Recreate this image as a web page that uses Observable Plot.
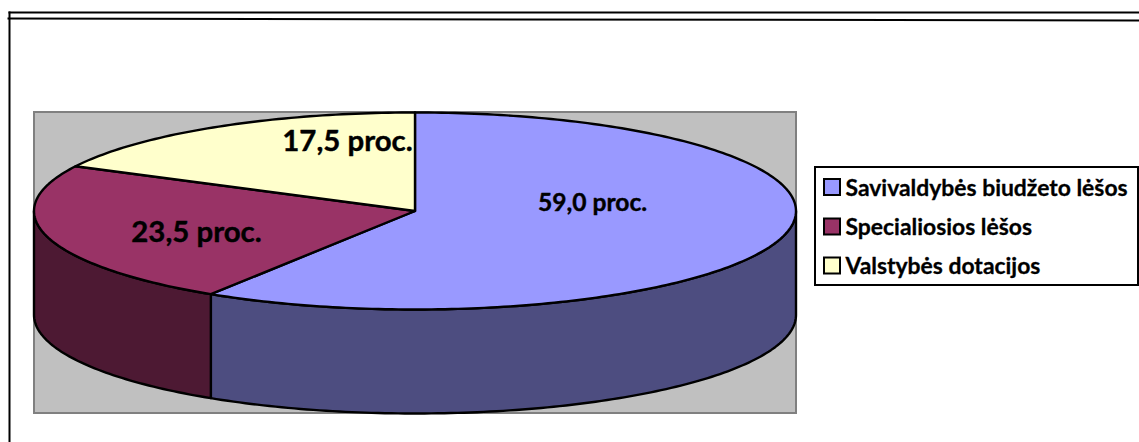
<!DOCTYPE html>
<html lang="lt">
<head>
<meta charset="utf-8">
<script src="https://cdn.jsdelivr.net/npm/d3@7"></script>
<script src="https://cdn.jsdelivr.net/npm/@observablehq/plot@0.6"></script>
<style>
html,body{margin:0;padding:0;background:#fff;overflow:hidden}
svg{display:block}
</style>
</head>
<body>
<div id="chart"></div>
<script>
const categories = ["Savivaldybės biudžeto lėšos", "Specialiosios lėšos", "Valstybės dotacijos"];
const shares = [59.0, 23.5, 17.5];
const valueLabels = ["59,0 proc.", "23,5 proc.", "17,5 proc."];
const topColors = ["#9999ff", "#993366", "#ffffcc"];
const sideColors = ["#4d4d80", "#4d1933", "#808066"];

// Layout (pixels of the page), converted into pie units so that everything goes through the scales
const W = 1139, H = 442;
const cx = 414.5, cy = 210.5, rx = 381, ry = 98.5, depthPx = 104;
const ux = p => (p - cx) / rx;
const uy = p => (cy - p) / ry;
const depth = depthPx / ry;
const labelPos = [[592, 203, 24.6], [196, 232, 29.4], [347, 141, 29.4]];
const legendRows = [187, 226.5, 265.5];

// Angles measured clockwise from 12 o'clock
let acc = 0;
const slices = shares.map((v, i) => {
  const a0 = acc / 100 * 2 * Math.PI;
  acc += v;
  return {i, a0, a1: acc / 100 * 2 * Math.PI};
});
const arcPts = (a0, a1, dz = 0) => {
  const n = Math.max(2, Math.ceil((a1 - a0) / (Math.PI / 180)));
  return d3.range(n + 1).map(k => {
    const a = a0 + (a1 - a0) * k / n;
    return {x: Math.sin(a), y: Math.cos(a) - dz};
  });
};
const topPaths = slices.map(s => [{x: 0, y: 0}, ...arcPts(s.a0, s.a1)]);
const sidePaths = slices.flatMap(s => {
  const lo = Math.max(s.a0, Math.PI / 2), hi = Math.min(s.a1, 3 * Math.PI / 2);
  if (hi <= lo) return [];
  return [{i: s.i, pts: [...arcPts(lo, hi), ...arcPts(lo, hi, depth).reverse()]}];
});

const closed = (pts, fill, sw = 2.4) => Plot.line(pts, {
  x: "x", y: "y", curve: "linear-closed", fill, stroke: "#000", strokeWidth: sw, strokeLinejoin: "round"
});
const box = (x1, y1, x2, y2, fill, stroke, strokeWidth) => Plot.rect(
  [{x1: ux(x1), x2: ux(x2), y1: uy(y1), y2: uy(y2)}],
  {x1: "x1", x2: "x2", y1: "y1", y2: "y2", fill, stroke, strokeWidth}
);
const seg = (x1, y1, x2, y2, strokeWidth = 2) => Plot.line(
  [{x: ux(x1), y: uy(y1)}, {x: ux(x2), y: uy(y2)}],
  {x: "x", y: "y", stroke: "#000", strokeWidth, strokeLinecap: "butt"}
);

const fontFamily = "Lato, 'Open Sans', sans-serif";

const plot = Plot.plot({
  width: W, height: H, margin: 0,
  x: {domain: [-1, 1], range: [cx - rx, cx + rx], axis: null},
  y: {domain: [1, -1], range: [cy - ry, cy + ry], axis: null},
  style: {background: "#fff", fontFamily},
  marks: [
    // outer frame
    seg(8, 12, W, 12),
    seg(7, 18, W, 20, 2),
    seg(9, 11, 9, H),
    // plot area
    box(34, 112, 796, 413, "#c0c0c0", "#808080", 2),
    // pie walls and tops
    ...sidePaths.map(s => closed(s.pts, sideColors[s.i])),
    ...topPaths.map((p, i) => closed(p, topColors[i])),
    // value labels
    ...valueLabels.map((t, i) => Plot.text([t], {
      x: () => ux(labelPos[i][0]), y: () => uy(labelPos[i][1]), text: d => d,
      fontSize: labelPos[i][2], fontWeight: "bold", fill: "#000", stroke: "#000", strokeWidth: 0.4,
      textAnchor: "middle", lineAnchor: "middle"
    })),
    // legend
    box(815, 167, 1138, 285, "#fff", "#000", 2),
    ...categories.map((c, i) => box(824, legendRows[i] - 8, 840, legendRows[i] + 8, topColors[i], "#000", 2)),
    Plot.text(categories, {
      x: () => ux(845), y: (d, i) => uy(legendRows[i] + 1), text: d => d,
      fontSize: 22.9, fontWeight: "bold", fill: "#000", stroke: "#000", strokeWidth: 0.3,
      textAnchor: "start", lineAnchor: "middle"
    })
  ]
});
document.getElementById("chart").append(plot);
</script>
</body>
</html>
